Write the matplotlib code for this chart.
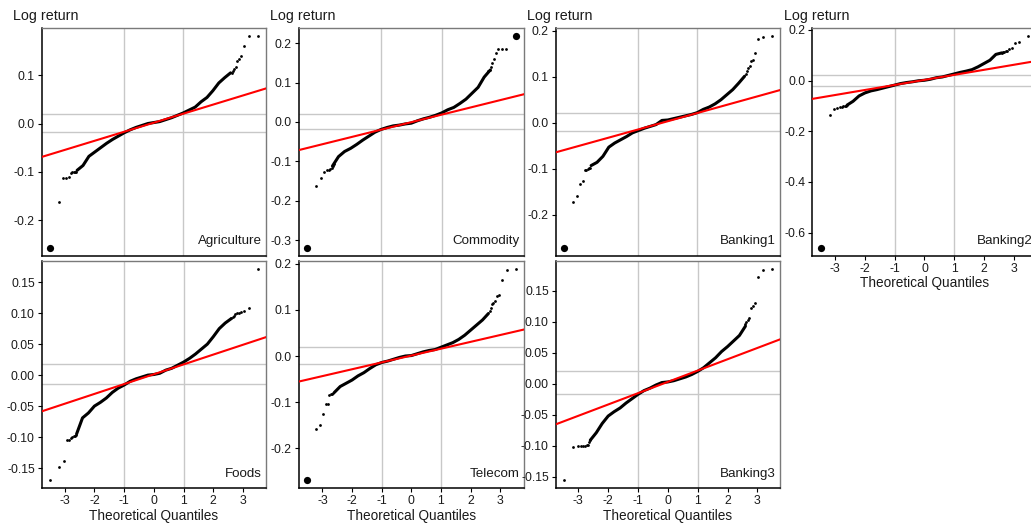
"""Normal QQ plots of daily log returns for seven sector indices."""
from statistics import NormalDist

import matplotlib

matplotlib.use("Agg")
import matplotlib.pyplot as plt
from matplotlib.ticker import FormatStrFormatter, MultipleLocator

plt.rcParams["font.family"] = ["Liberation Sans", "DejaVu Sans"]
plt.rcParams["axes.unicode_minus"] = False

SECTORS = ["Agriculture", "Commodity", "Banking1", "Banking2", "Foods", "Telecom", "Banking3"]
N_OBS = [2300, 1700, 2300, 2070, 2100, 2300, 2000]

# theoretical quantiles at which the dense middle of each sample is tabulated
BODY_Z = [-2.6, -2.4, -2.2, -2.0, -1.8, -1.6, -1.4, -1.2, -1.0, -0.8, -0.6, -0.4, -0.2, 0.0,
          0.2, 0.4, 0.6, 0.8, 1.0, 1.2, 1.4, 1.6, 1.8, 2.0, 2.2, 2.4, 2.6]

# ten lowest / ten highest observations (sorted), plus the sample quantiles at BODY_Z
agri_low = [-0.257, -0.163, -0.113, -0.112, -0.111, -0.102, -0.101, -0.101, -0.100, -0.100]
agri_body = [-0.097, -0.087, -0.068, -0.059, -0.050, -0.041, -0.033, -0.026, -0.019, -0.013,
             -0.008, -0.004, 0.000, 0.002, 0.004, 0.008, 0.012, 0.017, 0.022, 0.028, 0.034,
             0.045, 0.054, 0.068, 0.084, 0.095, 0.105]
agri_high = [0.105, 0.108, 0.112, 0.117, 0.130, 0.134, 0.139, 0.161, 0.181, 0.181]

comm_low = [-0.319, -0.162, -0.143, -0.126, -0.122, -0.121, -0.119, -0.117, -0.113, -0.107]
comm_body = [-0.112, -0.088, -0.075, -0.067, -0.057, -0.046, -0.036, -0.026, -0.019, -0.014,
             -0.010, -0.008, -0.005, -0.003, 0.003, 0.008, 0.012, 0.017, 0.023, 0.031, 0.037,
             0.047, 0.058, 0.073, 0.088, 0.114, 0.132]
comm_high = [0.130, 0.133, 0.140, 0.150, 0.159, 0.175, 0.185, 0.185, 0.186, 0.218]

bank1_low = [-0.271, -0.172, -0.160, -0.132, -0.126, -0.103, -0.102, -0.100, -0.099, -0.098]
bank1_body = [-0.093, -0.086, -0.073, -0.053, -0.044, -0.037, -0.030, -0.022, -0.017, -0.012,
              -0.008, -0.004, 0.005, 0.006, 0.009, 0.012, 0.015, 0.018, 0.022, 0.029, 0.034,
              0.041, 0.050, 0.061, 0.072, 0.086, 0.101]
bank1_high = [0.106, 0.112, 0.118, 0.124, 0.133, 0.136, 0.151, 0.181, 0.186, 0.188]

bank2_low = [-0.659, -0.138, -0.114, -0.107, -0.105, -0.103, -0.102, -0.101, -0.100, -0.098]
bank2_body = [-0.097, -0.082, -0.061, -0.049, -0.041, -0.036, -0.030, -0.024, -0.018, -0.012,
              -0.008, -0.005, -0.001, 0.001, 0.005, 0.011, 0.014, 0.020, 0.026, 0.032, 0.037,
              0.043, 0.054, 0.067, 0.080, 0.103, 0.109]
bank2_high = [0.110, 0.112, 0.114, 0.116, 0.118, 0.124, 0.128, 0.149, 0.151, 0.175]

foods_low = [-0.169, -0.148, -0.139, -0.104, -0.104, -0.101, -0.100, -0.099, -0.098, -0.096]
foods_body = [-0.095, -0.069, -0.061, -0.050, -0.044, -0.037, -0.028, -0.021, -0.016, -0.010,
              -0.006, -0.003, 0.000, 0.001, 0.003, 0.008, 0.011, 0.016, 0.021, 0.027, 0.034,
              0.042, 0.050, 0.062, 0.075, 0.084, 0.091]
foods_high = [0.092, 0.094, 0.096, 0.098, 0.100, 0.101, 0.102, 0.103, 0.108, 0.171]

tele_low = [-0.268, -0.157, -0.149, -0.126, -0.104, -0.103, -0.085, -0.083, -0.082, -0.080]
tele_body = [-0.079, -0.066, -0.059, -0.052, -0.043, -0.036, -0.027, -0.019, -0.014, -0.011,
             -0.007, -0.003, 0.000, 0.001, 0.005, 0.009, 0.012, 0.014, 0.019, 0.024, 0.029,
             0.036, 0.045, 0.056, 0.067, 0.078, 0.092]
tele_high = [0.097, 0.103, 0.113, 0.114, 0.118, 0.129, 0.133, 0.165, 0.186, 0.188]

bank3_low = [-0.155, -0.102, -0.101, -0.101, -0.100, -0.100, -0.099, -0.098, -0.094, -0.090]
bank3_body = [-0.091, -0.079, -0.064, -0.052, -0.045, -0.039, -0.031, -0.024, -0.017, -0.011,
              -0.007, -0.002, 0.002, 0.003, 0.005, 0.008, 0.011, 0.015, 0.020, 0.026, 0.034,
              0.042, 0.052, 0.060, 0.069, 0.078, 0.093]
bank3_high = [0.096, 0.100, 0.103, 0.106, 0.122, 0.125, 0.130, 0.172, 0.183, 0.185]

LOWS = [agri_low, comm_low, bank1_low, bank2_low, foods_low, tele_low, bank3_low]
BODIES = [agri_body, comm_body, bank1_body, bank2_body, foods_body, tele_body, bank3_body]
HIGHS = [agri_high, comm_high, bank1_high, bank2_high, foods_high, tele_high, bank3_high]

# first and third sample quartiles (reference line) and mean / sd (guide lines)
QUARTILES = [(-0.0109, 0.0143), (-0.0134, 0.0124), (-0.0087, 0.0153), (-0.0110, 0.0158),
             (-0.0093, 0.0121), (-0.0090, 0.0110), (-0.0092, 0.0154)]
MEAN_SD = [(0.0004, 0.0190), (0.0004, 0.0190), (0.0015, 0.0195), (0.0013, 0.0210),
           (0.0014, 0.0164), (0.0008, 0.0179), (0.0019, 0.0191)]

# extreme days that are marked with a larger dot
MARK_MIN = [True, True, True, True, False, True, False]
MARK_MAX = [False, True, False, False, False, False, False]

W, H = 1031, 523
# panel boxes in pixels: left, top, width, height
BOXES = [(41.7, 27.7, 224.3, 228.3), (298.7, 27.7, 225.3, 228.3),
         (555.7, 27.7, 224.3, 228.3), (812.3, 27.7, 224.3, 228.3),
         (41.7, 260.7, 224.3, 227.6), (298.7, 260.7, 225.3, 227.6),
         (555.7, 260.7, 224.3, 227.6)]
Y_STEP = [0.1, 0.1, 0.1, 0.2, 0.05, 0.1, 0.05]
Y_FMT = ["%.1f", "%.1f", "%.1f", "%.1f", "%.2f", "%.1f", "%.2f"]
SHOW_X = [False, False, False, True, True, True, True]
SHOW_TITLE = [True, True, True, True, False, False, False]

TEXT = "#1a1a1a"
GUIDE = "#c8c8c8"
ND = NormalDist()


def draw_panel(ax, k):
    n, low, body, high = N_OBS[k], LOWS[k], BODIES[k], HIGHS[k]
    z_low = [ND.inv_cdf((i - 0.5) / n) for i in range(1, len(low) + 1)]
    z_high = [ND.inv_cdf((n - len(high) + i - 0.5) / n) for i in range(1, len(high) + 1)]

    # guide lines: +-1 on the normal scale, mean +- sd on the sample scale
    mean, sd = MEAN_SD[k]
    for v in (-1, 1):
        ax.axvline(v, color=GUIDE, lw=1.0, zorder=1)
    for v in (mean - sd, mean + sd):
        ax.axhline(v, color=GUIDE, lw=1.0, zorder=1)

    ax.plot(BODY_Z, body, color="black", lw=2.2, solid_capstyle="round", zorder=3)
    ax.plot(z_low, low, "o", color="black", ms=2.0, mew=0, zorder=3)
    ax.plot(z_high, high, "o", color="black", ms=2.0, mew=0, zorder=3)
    if MARK_MIN[k]:
        ax.plot(z_low[0], low[0], "o", color="black", ms=5.2, mew=0, zorder=4)
    if MARK_MAX[k]:
        ax.plot(z_high[-1], high[-1], "o", color="black", ms=5.2, mew=0, zorder=4)

    # qqline through the quartiles
    q1, q3 = QUARTILES[k]
    z1, z3 = ND.inv_cdf(0.25), ND.inv_cdf(0.75)
    slope = (q3 - q1) / (z3 - z1)
    ax.axline((0.0, q1 - slope * z1), slope=slope, color="red", lw=1.5, zorder=5)

    zmax = z_high[-1]
    ax.set_xlim(-1.08 * zmax, 1.08 * zmax)
    lo, hi = min(low), max(high)
    pad = 0.04 * (hi - lo)
    ax.set_ylim(lo - pad, hi + pad)

    ax.xaxis.set_major_locator(MultipleLocator(1))
    ax.yaxis.set_major_locator(MultipleLocator(Y_STEP[k]))
    ax.yaxis.set_major_formatter(FormatStrFormatter(Y_FMT[k]))
    ax.tick_params(axis="both", direction="out", length=3, width=0.8, colors="black",
                   labelcolor=TEXT, labelsize=8.8, pad=2)
    if SHOW_X[k]:
        ax.set_xlabel("Theoretical Quantiles", fontsize=9.8, color=TEXT, labelpad=1)
    else:
        ax.tick_params(axis="x", length=0, labelbottom=False)

    for side in ("left", "bottom"):
        ax.spines[side].set_color("black")
        ax.spines[side].set_linewidth(1.1)
    for side in ("top", "right"):
        ax.spines[side].set_color("#7a7a7a")
        ax.spines[side].set_linewidth(1.0)

    ax.annotate(SECTORS[k], xy=(1, 0), xycoords="axes fraction", xytext=(-3, 10.5),
                textcoords="offset points", ha="right", va="center",
                fontsize=9.6, color=TEXT)
    if SHOW_TITLE[k]:
        ax.annotate("Log return", xy=(0, 1), xycoords="axes fraction", xytext=(-20.7, 8.6),
                    textcoords="offset points", ha="left", va="center",
                    fontsize=10.3, color=TEXT)


fig = plt.figure(figsize=(W / 100, H / 100), dpi=100)
for k, (left, top, width, height) in enumerate(BOXES):
    ax = fig.add_axes([left / W, 1 - (top + height) / H, width / W, height / H])
    draw_panel(ax, k)

fig.savefig("out.png", dpi=100)
